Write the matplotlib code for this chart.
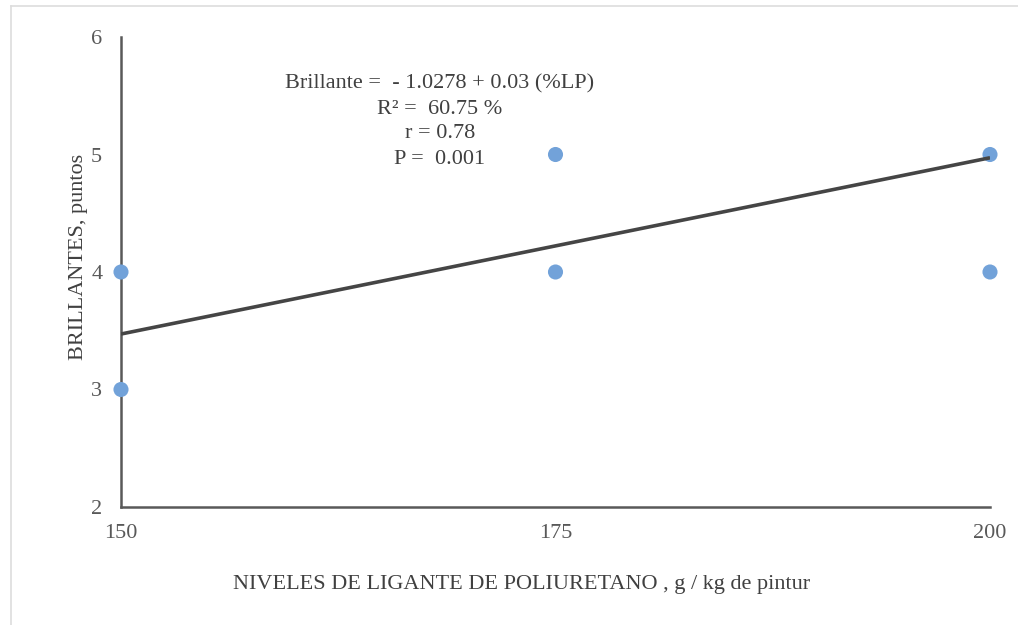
import numpy as np
import matplotlib.pyplot as plt
from matplotlib.lines import Line2D

plt.rcParams['font.family'] = ['Liberation Serif', 'DejaVu Serif']

# Observed scores per binder level
niveles = [150, 150, 175, 175, 200, 200]
brillo = [4, 3, 5, 4, 5, 4]

# Regression line: Brillante = b0 + b1 * LP
b0 = -1.0278
b1 = 0.03
x_fit = [150, 200]

eq_lines = ["Brillante =  - 1.0278 + 0.03 (%LP)",
            "R\u00b2 =  60.75 %",
            "r = 0.78",
            "P =  0.001"]

W, H = 1018, 625
fig = plt.figure(figsize=(W / 100, H / 100), dpi=100)
ax = fig.add_axes([121 / W, 1 - 507 / H, (990 - 121) / W, (507 - 37) / H])

ax.scatter(niveles, brillo, s=118, color='#72A2D9', zorder=3, clip_on=False,
           edgecolors='none')
y_fit = [b0 + b1 * v for v in x_fit]
ax.plot(x_fit, y_fit, color='#454545', lw=2.6, zorder=4, solid_capstyle='butt')

ax.set_xlim(150, 200)
ax.set_ylim(2, 6)
ax.set_xticks([150, 175, 200])
ax.set_yticks([2, 3, 4, 5, 6])

for s in ['top', 'right']:
    ax.spines[s].set_visible(False)
for s in ['left', 'bottom']:
    ax.spines[s].set_color('#595959')
    ax.spines[s].set_linewidth(1.8)

ax.tick_params(axis='both', length=0, labelsize=16, colors='#595959')
ax.tick_params(axis='y', pad=13.5)
ax.tick_params(axis='x', pad=12)

ax.set_ylabel('BRILLANTES, puntos', fontsize=16, color='#404040')
ax.yaxis.set_label_coords((88 - 121) / 869, (507 - 257) / 470)
fig.text(522 / W, 1 - 584 / H,
         'NIVELES DE LIGANTE DE POLIURETANO , g / kg de pintur',
         ha='center', va='center', fontsize=16, color='#404040')

# regression summary, one line every 25 px
for i, line in enumerate(eq_lines):
    ax.text((440 - 121) / 869, (507 - 84 - 25 * i) / 470, line,
            ha='center', va='center', fontsize=16, color='#404040',
            transform=ax.transAxes)

# light frame along the top and left edges
fig.add_artist(Line2D([10.5 / W, 10.5 / W], [0, 1 - 5.5 / H],
                      transform=fig.transFigure, color='#DDDDDD', lw=1.2))
fig.add_artist(Line2D([10.5 / W, 1], [1 - 5.5 / H, 1 - 5.5 / H],
                      transform=fig.transFigure, color='#DDDDDD', lw=1.2))

fig.savefig('out.png', dpi=100)
